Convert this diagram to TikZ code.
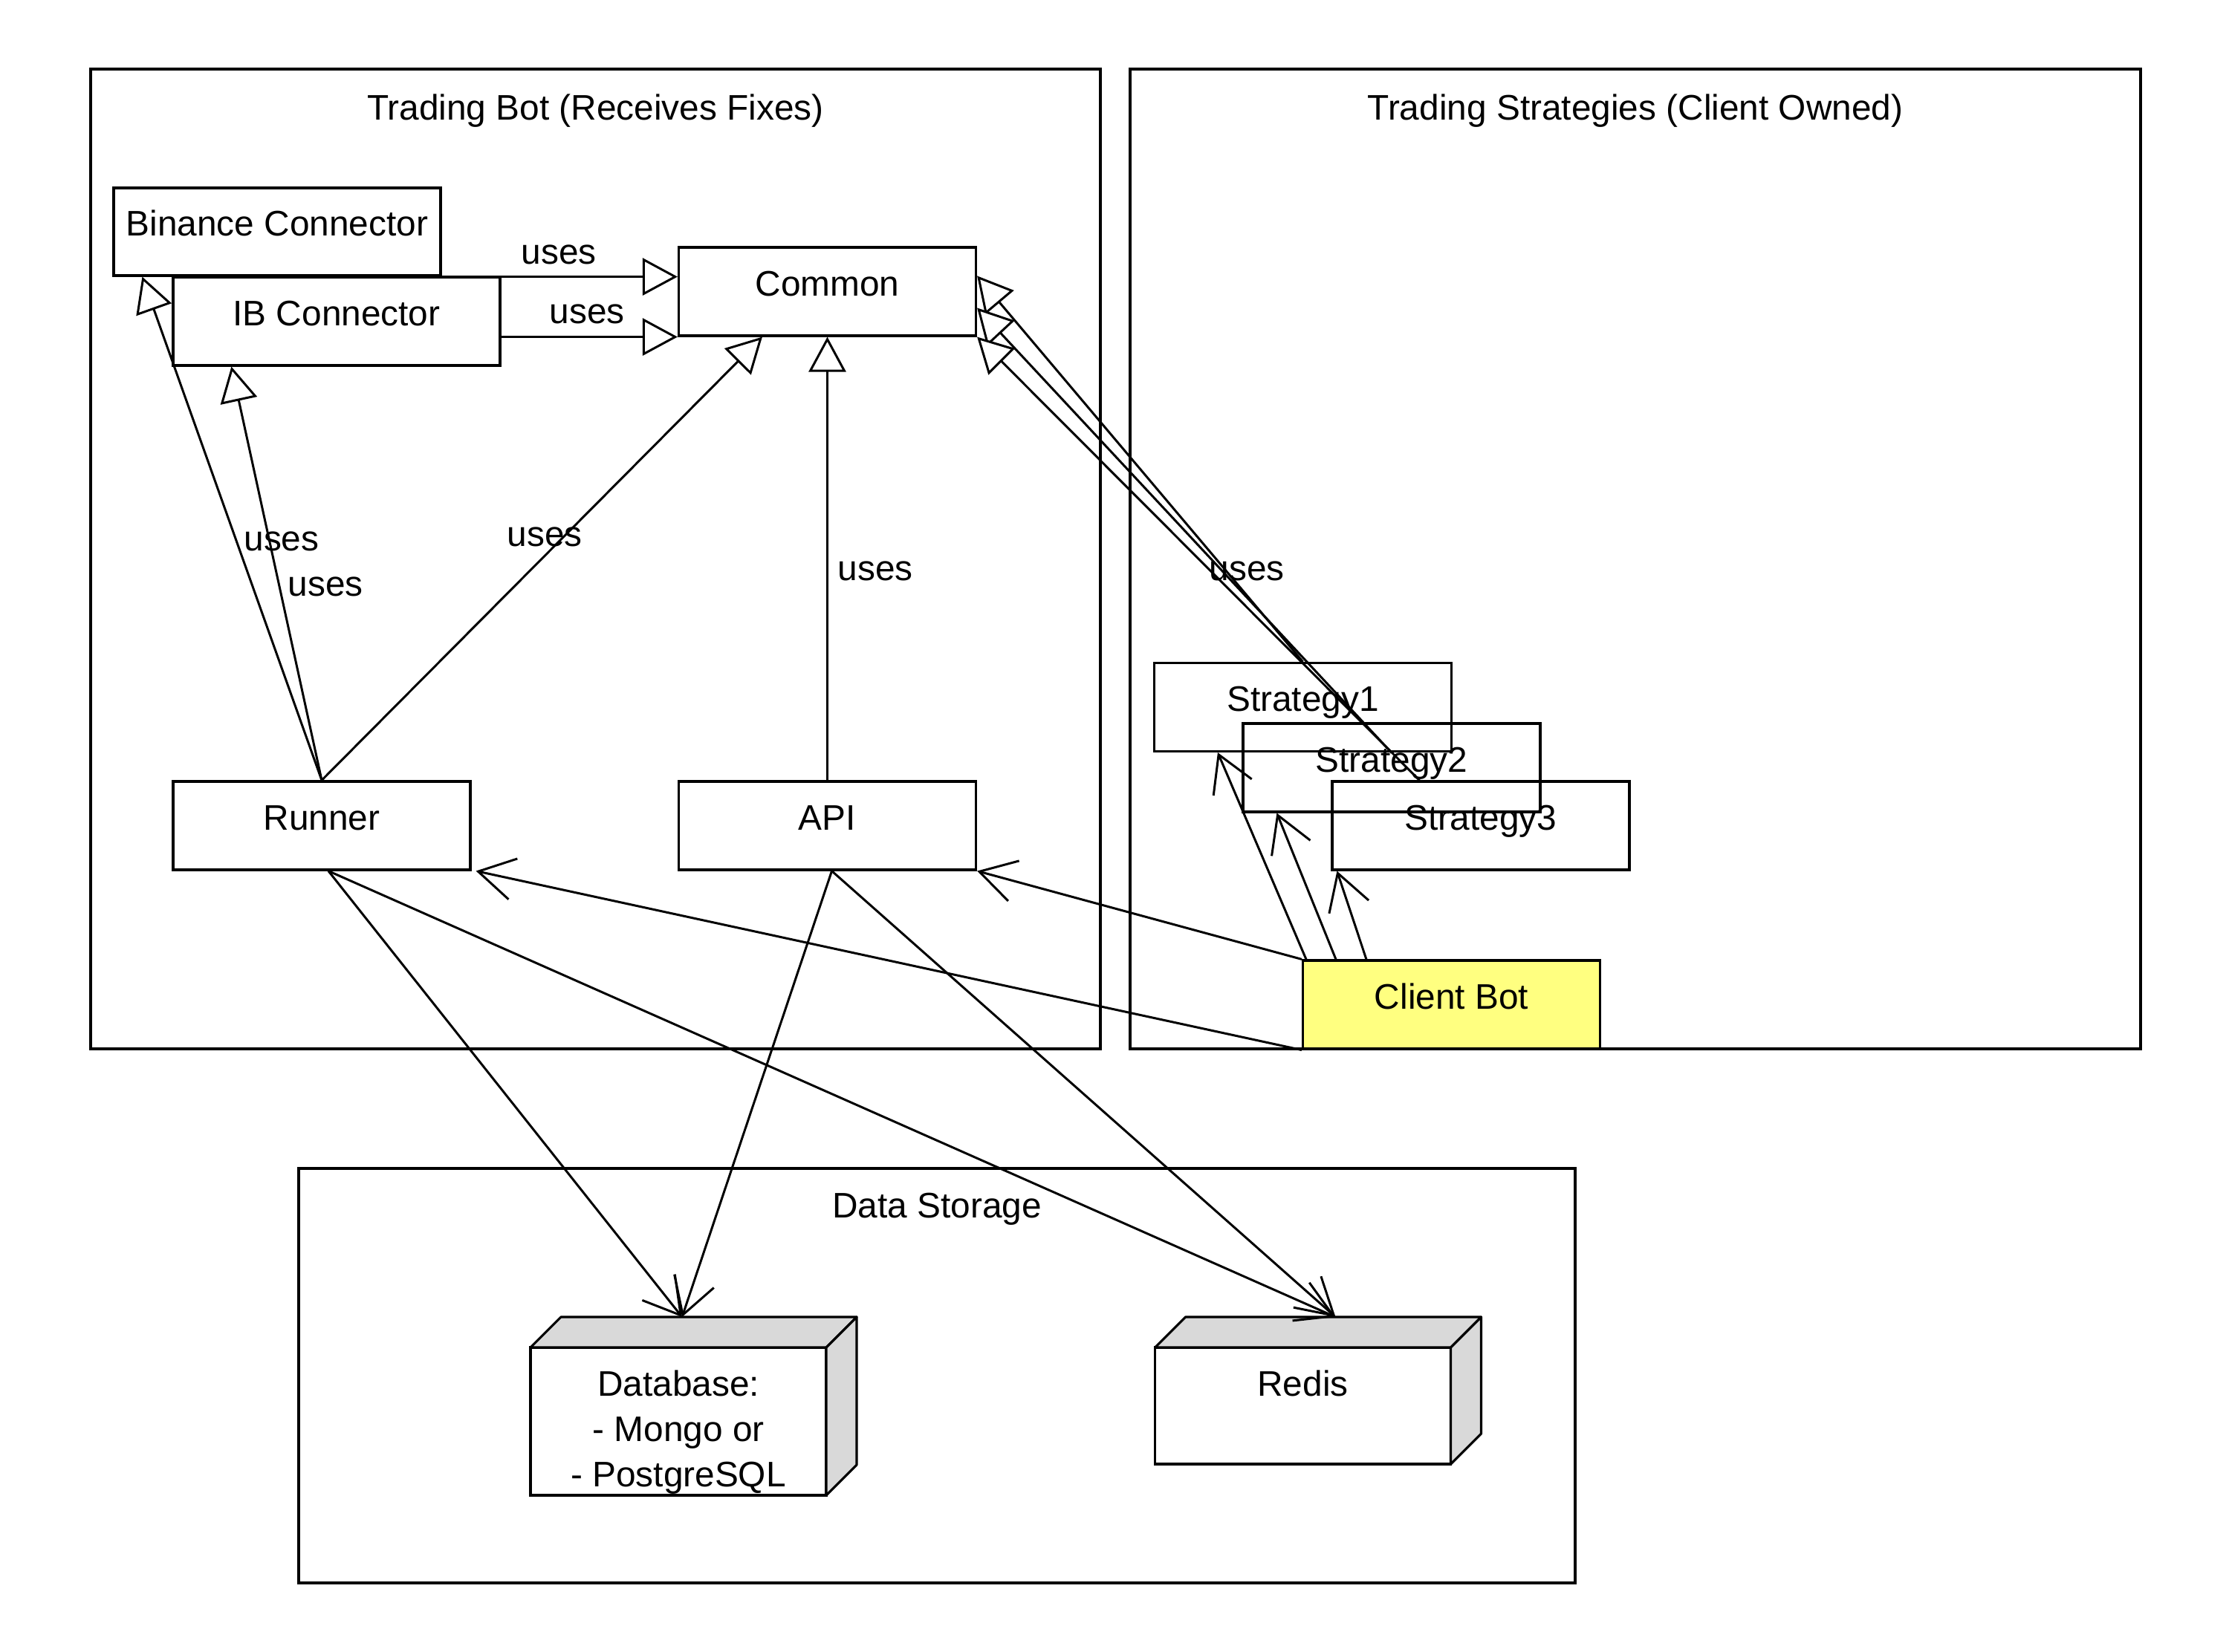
\documentclass[tikz,border=0pt]{standalone}
\usepackage{fontspec}
\setmainfont{Liberation Sans}
\usetikzlibrary{arrows.meta}

\definecolor{clientyellow}{RGB}{255,255,128}

\tikzset{
  frame/.style={draw, line width=0.95pt, inner sep=0pt},
  comp/.style={draw, line width=0.9pt, minimum width=4cm, minimum height=1.19cm,
    inner sep=0pt, text height=0.35cm, text depth=0.23cm},
  store/.style={draw, fill=white, line width=0.9pt, minimum width=3.98cm,
    inner sep=0pt, outer sep=0pt},
  storeface/.style={draw, fill=black!15, line width=0.9pt, line join=round},
  uses/.style={line width=0.85pt, -{Triangle[length=0.47cm, width=0.5cm, fill=white]}},
  dep/.style={line width=0.85pt, -{Straight Barb[length=0.48cm, width=0.56cm]}},
  lbl/.style={inner sep=0pt, yshift=-0.04cm},
}

\begin{document}
\begin{tikzpicture}[font=\fontsize{13.6}{17.4}\selectfont]
  \useasboundingbox (0,0) rectangle (30,22.23);

  % frames
  \node[frame, minimum width=13.59cm, minimum height=13.19cm] (botframe) at (8.015,14.705) {};
  \node[frame, minimum width=13.6cm, minimum height=13.19cm] (stratframe) at (22.01,14.705) {};
  \node[frame, minimum width=17.18cm, minimum height=5.58cm] (storeframe) at (12.61,3.71) {};
  \node[anchor=base] (bottitle) at ([yshift=-0.7cm]botframe.north) {Trading Bot (Receives Fixes)};
  \node[anchor=base] (strattitle) at ([yshift=-0.7cm]stratframe.north) {Trading Strategies (Client Owned)};
  \node[anchor=base] (storetitle) at ([yshift=-0.68cm]storeframe.north) {Data Storage};

  % trading bot
  \node[comp, minimum width=4.4cm, minimum height=1.18cm] (binance) at (3.73,19.11) {Binance Connector};
  \node[comp, minimum width=4.4cm] (ib) at (4.53,17.905) {IB Connector};
  \node[comp] (common) at (11.135,18.305) {Common};
  \node[comp] (runner) at (4.33,11.115) {Runner};
  \node[comp] (api) at (11.135,11.115) {API};

  % strategies
  \node[comp] (strat1) at (17.535,12.71) {Strategy1};
  \node[comp] (strat2) at (18.73,11.895) {Strategy2};
  \node[comp] (strat3) at (19.93,11.115) {Strategy3};
  \node[comp, fill=clientyellow] (client) at (19.535,8.705) {Client Bot};

  % storage
  \node[store, minimum height=1.99cm] (db) at (9.13,3.095) {};
  \draw[storeface] (db.north west) -- ++(0.41,0.41) -- ++(3.98,0) -- (db.north east) -- cycle;
  \draw[storeface] (db.north east) -- ++(0.41,0.41) -- ([shift={(0.41,0.41)}]db.south east) -- (db.south east) -- cycle;
  \node[anchor=north, inner sep=0pt, align=center] (dbtext) at ([yshift=-0.3cm]db.north) {Database:\\- Mongo or\\- PostgreSQL};

  \node[store, minimum height=1.57cm] (redis) at (17.535,3.305) {};
  \draw[storeface] (redis.north west) -- ++(0.41,0.41) -- ++(3.98,0) -- (redis.north east) -- cycle;
  \draw[storeface] (redis.north east) -- ++(0.41,0.41) -- ([shift={(0.41,0.41)}]redis.south east) -- (redis.south east) -- cycle;
  \node[anchor=north, inner sep=0pt] (redistext) at ([yshift=-0.3cm]redis.north) {Redis};

  % uses arrows
  \draw[uses] (binance.south east) -- (binance.south east -| common.west);
  \draw[uses] (ib.east |- common.south west) -- (common.south west);
  \draw[uses] (runner.north) -- ([xshift=0.4cm]binance.south west);
  \draw[uses] (runner.north) -- ([xshift=0.8cm]ib.south west);
  \draw[uses] (runner.north) -- ([xshift=1.14cm]common.south west);
  \draw[uses] (api.north) -- (common.south);
  \draw[uses] (strat1.north) -- ([yshift=-0.4cm]common.north east);
  \draw[uses] ([yshift=0.2cm]strat2.center) -- ([yshift=-0.22cm]common.east);
  \draw[uses] ([xshift=1.19cm]strat3.north west) -- (common.south east);

  \node[lbl] (usesbinance) at (7.52,18.84) {uses};
  \node[lbl] (usesib) at (7.90,18.04) {uses};
  \node[lbl] (usesrunnerbin) at (3.79,14.98) {uses};
  \node[lbl] (usesrunnerib) at (4.38,14.37) {uses};
  \node[lbl] (usesrunnercom) at (7.33,15.04) {uses};
  \node[lbl] (usesapi) at (11.78,14.58) {uses};
  \node[lbl] (usesstrat) at (16.78,14.58) {uses};

  % client bot
  \draw[dep] (client.north west) -- (api.south east);
  \draw[dep] (client.south west) -- ([xshift=0.06cm]runner.south east);
  \draw[dep] ([xshift=0.06cm]client.north west) -- ([xshift=0.87cm]strat1.south west);
  \draw[dep] ([xshift=0.46cm]client.north west) -- ([xshift=0.47cm]strat2.south west);
  \draw[dep] ([xshift=0.87cm]client.north west) -- ([xshift=0.08cm]strat3.south west);

  % data storage
  \draw[dep] ([xshift=0.09cm]runner.south) -- ([shift={(0.05,0.41)}]db.north);
  \draw[dep] ([xshift=0.06cm]api.south) -- ([shift={(0.05,0.41)}]db.north);
  \draw[dep] ([xshift=0.09cm]runner.south) -- ([shift={(0.44,0.41)}]redis.north);
  \draw[dep] ([xshift=0.06cm]api.south) -- ([shift={(0.44,0.41)}]redis.north);
\end{tikzpicture}
\end{document}
